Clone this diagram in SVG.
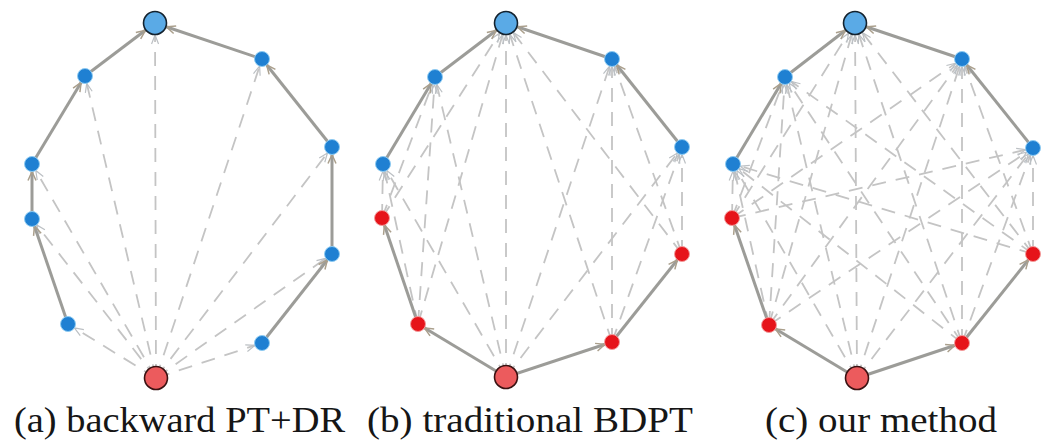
<svg xmlns="http://www.w3.org/2000/svg" width="1043" height="448" viewBox="0 0 1043 448">
  <style>
    .dash { stroke: #c4c4c4; stroke-width: 1.8; stroke-dasharray: 14 10; fill: none; }
    .dash.s { marker-end: url(#ahDashS); }
    .dash.b { marker-end: url(#ahDashB); }
    .path { stroke: #9c9c98; stroke-width: 3; fill: none; }
    .path.s { marker-end: url(#ahPathS); }
    .path.b { marker-end: url(#ahPathB); }
    .eye { fill: #1f80d2; stroke: #8ecbf2; stroke-width: 1; }
    .light { fill: #e6141a; stroke: #f39a9a; stroke-width: 1; }
    .cam { fill: #5aaae6; stroke: #14222e; stroke-width: 1.6; }
    .lamp { fill: #ec5b5d; stroke: #3a1212; stroke-width: 1.6; }
  </style>
  <defs>
    <!-- open chevron heads; refX pushes the tip back to the rim of the target vertex -->
    <marker id="ahDashS" markerUnits="userSpaceOnUse" markerWidth="40" markerHeight="40" refX="16.5" refY="0" orient="auto" overflow="visible">
      <path d="M0,-3.5 L9,0 L0,3.5" fill="none" stroke="#bcc0c4" stroke-width="1.2"/>
    </marker>
    <marker id="ahDashB" markerUnits="userSpaceOnUse" markerWidth="40" markerHeight="40" refX="21" refY="0" orient="auto" overflow="visible">
      <path d="M0,-3.5 L9,0 L0,3.5" fill="none" stroke="#bcc0c4" stroke-width="1.2"/>
    </marker>
    <marker id="ahPathS" markerUnits="userSpaceOnUse" markerWidth="40" markerHeight="40" refX="16.5" refY="0" orient="auto" overflow="visible">
      <path d="M0,-4 L9,0 L0,4" fill="none" stroke="#aa9f8c" stroke-width="1.5"/>
    </marker>
    <marker id="ahPathB" markerUnits="userSpaceOnUse" markerWidth="40" markerHeight="40" refX="21" refY="0" orient="auto" overflow="visible">
      <path d="M0,-4 L9,0 L0,4" fill="none" stroke="#aa9f8c" stroke-width="1.5"/>
    </marker>
  </defs>

  <rect width="1043" height="448" fill="#ffffff"/>

  <g id="connectors">
    <!-- (a) connections from the light to every eye vertex -->
    <g id="conn-a-dashed">
      <line class="dash b" x1="156" y1="378" x2="155" y2="23"/>
      <line class="dash s" x1="156" y1="378" x2="85" y2="76"/>
      <line class="dash s" x1="156" y1="378" x2="32" y2="164"/>
      <line class="dash s" x1="156" y1="378" x2="32" y2="219"/>
      <line class="dash s" x1="156" y1="378" x2="68" y2="324"/>
      <line class="dash s" x1="156" y1="378" x2="262" y2="343"/>
      <line class="dash s" x1="156" y1="378" x2="332" y2="254"/>
      <line class="dash s" x1="156" y1="378" x2="332" y2="147"/>
      <line class="dash s" x1="156" y1="378" x2="262" y2="59"/>
    </g>
    <!-- (b) per-path connections between light and eye subpaths -->
    <g id="conn-b-dashed">
      <line class="dash b" x1="506" y1="377" x2="506" y2="23"/>
      <line class="dash s" x1="506" y1="377" x2="435" y2="77"/>
      <line class="dash s" x1="506" y1="377" x2="383" y2="164"/>
      <line class="dash s" x1="506" y1="377" x2="612" y2="59"/>
      <line class="dash s" x1="506" y1="377" x2="682" y2="147"/>
      <line class="dash b" x1="418" y1="324" x2="506" y2="23"/>
      <line class="dash s" x1="418" y1="324" x2="435" y2="77"/>
      <line class="dash s" x1="418" y1="324" x2="383" y2="164"/>
      <line class="dash b" x1="382" y1="218" x2="506" y2="23"/>
      <line class="dash s" x1="382" y1="218" x2="435" y2="77"/>
      <line class="dash s" x1="382" y1="218" x2="383" y2="164"/>
      <line class="dash b" x1="612" y1="342" x2="506" y2="23"/>
      <line class="dash s" x1="612" y1="342" x2="612" y2="59"/>
      <line class="dash s" x1="612" y1="342" x2="682" y2="147"/>
      <line class="dash b" x1="682" y1="254" x2="506" y2="23"/>
      <line class="dash s" x1="682" y1="254" x2="612" y2="59"/>
      <line class="dash s" x1="682" y1="254" x2="682" y2="147"/>
    </g>
    <!-- (c) every light vertex to every eye vertex -->
    <g id="conn-c-dashed">
      <line class="dash b" x1="857" y1="378" x2="855" y2="23"/>
      <line class="dash s" x1="857" y1="378" x2="785" y2="77"/>
      <line class="dash s" x1="857" y1="378" x2="733" y2="164"/>
      <line class="dash s" x1="857" y1="378" x2="962" y2="59"/>
      <line class="dash s" x1="857" y1="378" x2="1033" y2="148"/>
      <line class="dash b" x1="769" y1="325" x2="855" y2="23"/>
      <line class="dash s" x1="769" y1="325" x2="785" y2="77"/>
      <line class="dash s" x1="769" y1="325" x2="733" y2="164"/>
      <line class="dash s" x1="769" y1="325" x2="962" y2="59"/>
      <line class="dash s" x1="769" y1="325" x2="1033" y2="148"/>
      <line class="dash b" x1="732" y1="218" x2="855" y2="23"/>
      <line class="dash s" x1="732" y1="218" x2="785" y2="77"/>
      <line class="dash s" x1="732" y1="218" x2="733" y2="164"/>
      <line class="dash s" x1="732" y1="218" x2="962" y2="59"/>
      <line class="dash s" x1="732" y1="218" x2="1033" y2="148"/>
      <line class="dash b" x1="962" y1="343" x2="855" y2="23"/>
      <line class="dash s" x1="962" y1="343" x2="785" y2="77"/>
      <line class="dash s" x1="962" y1="343" x2="733" y2="164"/>
      <line class="dash s" x1="962" y1="343" x2="962" y2="59"/>
      <line class="dash s" x1="962" y1="343" x2="1033" y2="148"/>
      <line class="dash b" x1="1033" y1="254" x2="855" y2="23"/>
      <line class="dash s" x1="1033" y1="254" x2="785" y2="77"/>
      <line class="dash s" x1="1033" y1="254" x2="733" y2="164"/>
      <line class="dash s" x1="1033" y1="254" x2="962" y2="59"/>
      <line class="dash s" x1="1033" y1="254" x2="1033" y2="148"/>
    </g>

    <!-- sampled path segments -->
    <g id="paths-a">
      <line class="path s" x1="68" y1="324" x2="32" y2="219"/>
      <line class="path s" x1="32" y1="219" x2="32" y2="164"/>
      <line class="path s" x1="32" y1="164" x2="85" y2="76"/>
      <line class="path b" x1="85" y1="76" x2="155" y2="23"/>
      <line class="path s" x1="262" y1="343" x2="332" y2="254"/>
      <line class="path s" x1="332" y1="254" x2="332" y2="147"/>
      <line class="path s" x1="332" y1="147" x2="262" y2="59"/>
      <line class="path b" x1="262" y1="59" x2="155" y2="23"/>
    </g>
    <g id="paths-b">
      <line class="path s" x1="383" y1="164" x2="435" y2="77"/>
      <line class="path b" x1="435" y1="77" x2="506" y2="23"/>
      <line class="path s" x1="682" y1="147" x2="612" y2="59"/>
      <line class="path b" x1="612" y1="59" x2="506" y2="23"/>
      <line class="path s" x1="506" y1="377" x2="418" y2="324"/>
      <line class="path s" x1="418" y1="324" x2="382" y2="218"/>
      <line class="path s" x1="506" y1="377" x2="612" y2="342"/>
      <line class="path s" x1="612" y1="342" x2="682" y2="254"/>
    </g>
    <g id="paths-c">
      <line class="path s" x1="733" y1="164" x2="785" y2="77"/>
      <line class="path b" x1="785" y1="77" x2="855" y2="23"/>
      <line class="path s" x1="1033" y1="148" x2="962" y2="59"/>
      <line class="path b" x1="962" y1="59" x2="855" y2="23"/>
      <line class="path s" x1="857" y1="378" x2="769" y2="325"/>
      <line class="path s" x1="769" y1="325" x2="732" y2="218"/>
      <line class="path s" x1="857" y1="378" x2="962" y2="343"/>
      <line class="path s" x1="962" y1="343" x2="1033" y2="254"/>
    </g>
  </g>

  <!-- (a) backward PT+DR vertices -->
  <g id="a-camera"><circle class="cam" cx="155" cy="23" r="11.5"/></g>
  <g id="a-light"><circle class="lamp" cx="156" cy="378" r="11.5"/></g>
  <g id="a-v1"><circle class="eye" cx="85" cy="76" r="7.5"/></g>
  <g id="a-v2"><circle class="eye" cx="32" cy="164" r="7.5"/></g>
  <g id="a-v3"><circle class="eye" cx="32" cy="219" r="7.5"/></g>
  <g id="a-v4"><circle class="eye" cx="68" cy="324" r="7.5"/></g>
  <g id="a-v5"><circle class="eye" cx="262" cy="59" r="7.5"/></g>
  <g id="a-v6"><circle class="eye" cx="332" cy="147" r="7.5"/></g>
  <g id="a-v7"><circle class="eye" cx="332" cy="254" r="7.5"/></g>
  <g id="a-v8"><circle class="eye" cx="262" cy="343" r="7.5"/></g>

  <!-- (b) traditional BDPT vertices -->
  <g id="b-camera"><circle class="cam" cx="506" cy="23" r="11.5"/></g>
  <g id="b-light"><circle class="lamp" cx="506" cy="377" r="11.5"/></g>
  <g id="b-e1"><circle class="eye" cx="435" cy="77" r="7.5"/></g>
  <g id="b-e2"><circle class="eye" cx="383" cy="164" r="7.5"/></g>
  <g id="b-e3"><circle class="eye" cx="612" cy="59" r="7.5"/></g>
  <g id="b-e4"><circle class="eye" cx="682" cy="147" r="7.5"/></g>
  <g id="b-l1"><circle class="light" cx="418" cy="324" r="7.5"/></g>
  <g id="b-l2"><circle class="light" cx="382" cy="218" r="7.5"/></g>
  <g id="b-l3"><circle class="light" cx="612" cy="342" r="7.5"/></g>
  <g id="b-l4"><circle class="light" cx="682" cy="254" r="7.5"/></g>

  <!-- (c) our method vertices -->
  <g id="c-camera"><circle class="cam" cx="855" cy="23" r="11.5"/></g>
  <g id="c-light"><circle class="lamp" cx="857" cy="378" r="11.5"/></g>
  <g id="c-e1"><circle class="eye" cx="785" cy="77" r="7.5"/></g>
  <g id="c-e2"><circle class="eye" cx="733" cy="164" r="7.5"/></g>
  <g id="c-e3"><circle class="eye" cx="962" cy="59" r="7.5"/></g>
  <g id="c-e4"><circle class="eye" cx="1033" cy="148" r="7.5"/></g>
  <g id="c-l1"><circle class="light" cx="769" cy="325" r="7.5"/></g>
  <g id="c-l2"><circle class="light" cx="732" cy="218" r="7.5"/></g>
  <g id="c-l3"><circle class="light" cx="962" cy="343" r="7.5"/></g>
  <g id="c-l4"><circle class="light" cx="1033" cy="254" r="7.5"/></g>

  <!-- sub-figure captions, widened slightly to span each column -->
  <g id="captions" font-family="'Liberation Serif', 'Times New Roman', serif" font-size="36" fill="#161616">
    <text x="14" y="432" textLength="331" lengthAdjust="spacingAndGlyphs">(a) backward PT+DR</text>
    <text x="367" y="432" textLength="326" lengthAdjust="spacingAndGlyphs">(b) traditional BDPT</text>
    <text x="765" y="432" textLength="232" lengthAdjust="spacingAndGlyphs">(c) our method</text>
  </g>
</svg>
